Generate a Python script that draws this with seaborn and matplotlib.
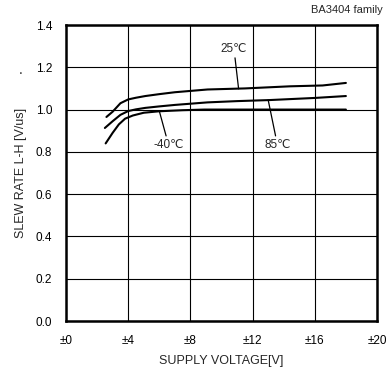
import matplotlib
import matplotlib.pyplot as plt
import pandas as pd
import seaborn as sns

matplotlib.use("Agg")

# data
V_25 = [2.6, 3.0, 3.5, 4.0, 4.5, 5.1, 6.0, 7.0, 9.1, 11.5, 14.4, 16.5, 18.0]
SR_25 = [0.965, 0.99, 1.03, 1.048, 1.056, 1.064, 1.073, 1.082, 1.095, 1.100, 1.110, 1.114, 1.126]
V_85 = [2.5, 3.0, 3.5, 4.0, 4.5, 5.1, 6.0, 7.0, 9.1, 11.0, 13.1, 16.0, 18.0]
SR_85 = [0.913, 0.945, 0.975, 0.993, 1.001, 1.008, 1.015, 1.022, 1.034, 1.040, 1.045, 1.055, 1.064]
V_M40 = [2.55, 3.0, 3.4, 3.8, 4.3, 5.0, 6.0, 7.5, 8.9, 12.0, 18.0]
SR_M40 = [0.84, 0.89, 0.93, 0.957, 0.972, 0.985, 0.992, 0.997, 1.000, 1.000, 1.000]

X_TICKS = [0, 4, 8, 12, 16, 20]
X_LABELS = ["±0", "±4", "±8", "±12", "±16", "±20"]
Y_TICKS = [0.0, 0.2, 0.4, 0.6, 0.8, 1.0, 1.2, 1.4]

df = pd.concat([
    pd.DataFrame({"v": V_25, "sr": SR_25, "temp": "25"}),
    pd.DataFrame({"v": V_85, "sr": SR_85, "temp": "85"}),
    pd.DataFrame({"v": V_M40, "sr": SR_M40, "temp": "-40"}),
])

sns.set_style("white")
plt.rcParams["font.family"] = ["Liberation Sans", "DejaVu Sans"]

fig = plt.figure(figsize=(3.88, 3.76), dpi=100)
ax = fig.add_axes([66 / 388, 55 / 376, 311 / 388, 296 / 376])

sns.lineplot(data=df, x="v", y="sr", units="temp", estimator=None,
             color="black", lw=1.5, ax=ax, legend=False)

ax.set_xlim(0, 20)
ax.set_ylim(0, 1.4)
ax.set_xticks(X_TICKS)
ax.set_xticklabels(X_LABELS)
ax.set_yticks(Y_TICKS)
ax.set_yticklabels([f"{t:.1f}" for t in Y_TICKS])
ax.grid(True, color="black", lw=0.8)
for s in ax.spines.values():
    s.set_color("black")
    s.set_linewidth(1.8)
ax.tick_params(labelsize=8.5, length=0, pad=10, colors="black")
ax.set_xlabel("SUPPLY VOLTAGE[V]", fontsize=9, labelpad=6)
ax.set_ylabel("SLEW RATE L-H [V/us]", fontsize=9, labelpad=6)

ax.annotate("25℃", xy=(11.1, 1.098), xytext=(10.8, 1.26),
            fontsize=8.5, ha="center", va="bottom",
            arrowprops=dict(arrowstyle="-", color="black", lw=0.9, shrinkA=0, shrinkB=0))
ax.annotate("85℃", xy=(13.0, 1.046), xytext=(13.6, 0.86),
            fontsize=8.5, ha="center", va="top",
            arrowprops=dict(arrowstyle="-", color="black", lw=0.9, shrinkA=0, shrinkB=0))
ax.annotate("-40℃", xy=(6.0, 0.993), xytext=(6.6, 0.86),
            fontsize=8.5, ha="center", va="top",
            arrowprops=dict(arrowstyle="-", color="black", lw=0.9, shrinkA=0, shrinkB=0))

fig.text(383 / 388, 1 - 10 / 376, "BA3404 family", fontsize=8, ha="right", va="center")
fig.text(21 / 388, 1 - 70 / 376, ".", fontsize=10, ha="center", va="center")

fig.savefig("out.png", dpi=100)
plt.close(fig)
